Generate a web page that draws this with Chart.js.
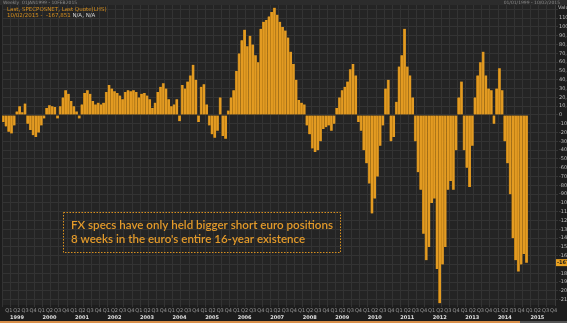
<!DOCTYPE html>
<html><head><meta charset="utf-8">
<script src="https://cdn.jsdelivr.net/npm/chart.js@4.4.1/dist/chart.umd.min.js"></script>
<style>html,body{margin:0;padding:0;background:#1d1d1d;overflow:hidden}#wrap{width:567px;height:323px;position:relative}canvas{display:block}</style>
</head><body><div id="wrap"><canvas id="c" width="567" height="323"></canvas></div>
<script>
// ---- categories ----
const years = ['1999','2000','2001','2002','2003','2004','2005','2006','2007','2008','2009','2010','2011','2012','2013','2014','2015'];
const quarterLabels = ['Q1','Q2','Q3','Q4'];
const monthCodes = ['01','02','03','04','05','06','07','08','09','10','11','12'];

// ---- CFTC net speculative euro positions, thousands of contracts (monthly reading of the picture) ----
const net1999 = [-8, -13, -19, -21, -12, 4, 10, 3, 13, -10, -17, -23];
const net2000 = [-25, -20, -12, -4, 8, 11, 10, 9, -4, 10, 20, 28];
const net2001 = [24, 16, 10, 4, -4, 12, 25, 28, 24, 16, 12, 14];
const net2002 = [12, 14, 26, 34, 30, 27, 25, 22, 18, 26, 28, 27];
const net2003 = [28, 26, 20, 24, 25, 22, 18, 8, 14, 26, 32, 36];
const net2004 = [30, 18, 10, 12, 18, -7, 34, 30, 38, 45, 57, 40];
const net2005 = [-8, 32, 35, 12, -12, -22, -26, -18, 20, -24, -27, 5];
const net2006 = [20, 28, 50, 70, 85, 97, 78, 90, 80, 68, 60, 98];
const net2007 = [106, 108, 112, 117, 122, 114, 106, 100, 96, 88, 72, 58];
const net2008 = [40, 17, 14, 12, -12, -22, -38, -42, -40, -30, -16, -14];
const net2009 = [-12, -18, -10, 8, 20, 28, 32, 38, 52, 58, 45, -8];
const net2010 = [-18, -40, -55, -78, -112, -95, -70, -35, -12, 30, 40, -30];
const net2011 = [-25, 15, 55, 68, 98, 55, 45, 20, -30, -65, -85, -135];
const net2012 = [-165, -150, -100, -95, -175, -214, -170, -150, -85, -75, -85, -40];
const net2013 = [20, 38, -40, -60, -82, -35, 20, 45, 60, 72, 45, 30];
const net2014 = [28, -10, 30, 53, 28, -30, -55, -90, -140, -165, -178, -170];
const net2015 = [-158, -168];
const lastValue = -167.851;

// ---- texts ----
const annotationLines = ['FX specs have only held bigger short euro positions', "8 weeks in the euro's entire 16-year existence"];
const headerTitle = 'Weekly  01JAN1999 - 10FEB2015';
const headerRange = '01/01/1999 - 10/02/2015';
const headerLine1 = 'Last, SPECPOSNET, Last Quote(LHS)';
const headerLine2a = '10/02/2015 -  -167,851';
const headerLine2b = 'N/A, N/A';

const monthLabels = [];
years.forEach(y => monthCodes.forEach(m => monthLabels.push(y + '-' + m)));
const netPositions = [].concat(net1999, net2000, net2001, net2002, net2003, net2004, net2005, net2006,
  net2007, net2008, net2009, net2010, net2011, net2012, net2013, net2014, net2015);

const ORANGE = '#E39B22';

const deco = {
  id: 'deco',
  beforeDraw(chart) {
    const {ctx, chartArea: a} = chart;
    ctx.save();
    ctx.fillStyle = '#1d1d1d';
    ctx.fillRect(0, 0, chart.width, chart.height);
    ctx.fillStyle = '#242424';
    ctx.fillRect(a.left, a.top, a.right - a.left, a.bottom - a.top);
    ctx.fillStyle = '#2c2c2c';
    ctx.fillRect(0, 0, chart.width, 5);
    ctx.restore();
  },
  afterDraw(chart) {
    const {ctx} = chart;
    const ys = chart.scales.y;
    ctx.save();
    // top title strip
    ctx.font = '4.5px "DejaVu Sans"';
    ctx.textBaseline = 'middle';
    ctx.fillStyle = '#8a8a8a';
    ctx.textAlign = 'left';
    ctx.fillText(headerTitle, 3, 2.6);
    ctx.textAlign = 'right';
    ctx.fillText(headerRange, 560, 2.6);
    // header lines inside plot
    ctx.textAlign = 'left';
    ctx.font = '5.5px "DejaVu Sans"';
    ctx.fillStyle = '#D8901E';
    ctx.fillText(headerLine1, 7, 10);
    ctx.fillText(headerLine2a, 7, 15.5);
    const w = ctx.measureText(headerLine2a + ' ').width;
    ctx.fillStyle = '#d0d0d0';
    ctx.fillText(headerLine2b, 7 + w, 15.5);
    // "Value" label over right axis
    ctx.fillStyle = '#bdbdbd';
    ctx.font = '5px "DejaVu Sans"';
    ctx.fillText('Value', ys.left + 3, 8);
    // last value marker on the axis
    const py = ys.getPixelForValue(lastValue);
    ctx.fillStyle = '#E8A020';
    ctx.fillRect(ys.left + 1, py - 3.5, chart.width - ys.left - 1, 7);
    ctx.fillStyle = '#1a1a1a';
    ctx.font = 'bold 5px "DejaVu Sans"';
    ctx.fillText('-167,851', ys.left + 2, py + 0.3);
    // annotation box
    ctx.strokeStyle = '#D8901E';
    ctx.lineWidth = 1;
    ctx.setLineDash([1.5, 1.5]);
    ctx.strokeRect(63.5, 212.5, 277, 40);
    ctx.setLineDash([]);
    ctx.fillStyle = '#E39A2A';
    ctx.font = '600 12px Lato';
    ctx.textBaseline = 'alphabetic';
    const sx = 262 / ctx.measureText(annotationLines[0]).width;
    ctx.translate(71, 0);
    ctx.scale(sx, 1);
    ctx.fillText(annotationLines[0], 0, 229.3);
    ctx.fillText(annotationLines[1], 0, 242.7);
    ctx.restore();
    // bottom orange strip
    ctx.save();
    ctx.fillStyle = '#D98F4A';
    ctx.fillRect(0, 321, 520, 2);
    ctx.fillStyle = '#555';
    ctx.fillRect(520, 321, 47, 2);
    ctx.restore();
  }
};

new Chart(document.getElementById('c'), {
  type: 'bar',
  data: {
    labels: monthLabels,
    datasets: [{
      data: netPositions,
      backgroundColor: ORANGE,
      borderColor: '#A9700F',
      borderWidth: {left: 0.6, right: 0, top: 0, bottom: 0},
      borderSkipped: false,
      barPercentage: 1,
      categoryPercentage: 1
    }]
  },
  options: {
    responsive: false,
    animation: false,
    events: [],
    layout: {padding: {left: 2, right: 0, top: 5, bottom: 2}},
    plugins: {legend: {display: false}, tooltip: {enabled: false}, title: {display: false}},
    scales: {
      x: {
        type: 'category',
        position: 'bottom',
        weight: 0,
        offset: true,
        border: {display: false},
        grid: {
          offset: true,
          drawTicks: true,
          tickLength: 2,
          lineWidth: 1,
          color: c => (c.index % 3 === 0 ? '#333333' : 'rgba(0,0,0,0)')
        },
        ticks: {
          autoSkip: false,
          maxRotation: 0,
          minRotation: 0,
          padding: 1,
          color: '#9a9a9a',
          font: {family: 'DejaVu Sans', size: 5},
          callback: (v, i) => (i % 3 === 2 ? quarterLabels[Math.floor((i % 12) / 3)] : '')
        }
      },
      x2: {
        type: 'category',
        position: 'bottom',
        weight: 1,
        offset: true,
        border: {display: false},
        grid: {display: false, drawTicks: false},
        ticks: {
          autoSkip: false,
          maxRotation: 0,
          minRotation: 0,
          padding: 0,
          color: '#e0e0e0',
          font: {family: 'DejaVu Sans', size: 5, weight: 'bold'},
          callback: (v, i) => (i % 12 === 5 ? years[Math.floor(i / 12)] : '')
        }
      },
      y: {
        type: 'linear',
        position: 'right',
        min: -216,
        max: 125,
        border: {display: true, color: '#3a3a3a'},
        grid: {color: '#333333', lineWidth: 1, tickLength: 3, drawTicks: true},
        afterFit: s => { s.width = 12; },
        ticks: {
          stepSize: 10,
          includeBounds: false,
          maxTicksLimit: 40,
          autoSkip: false,
          padding: 1,
          color: '#bdbdbd',
          font: {family: 'DejaVu Sans', size: 5},
          callback: v => (v === 120 ? '' : (v * 1000).toLocaleString('en-US'))
        }
      }
    }
  },
  plugins: [deco]
});
</script>
</body></html>
